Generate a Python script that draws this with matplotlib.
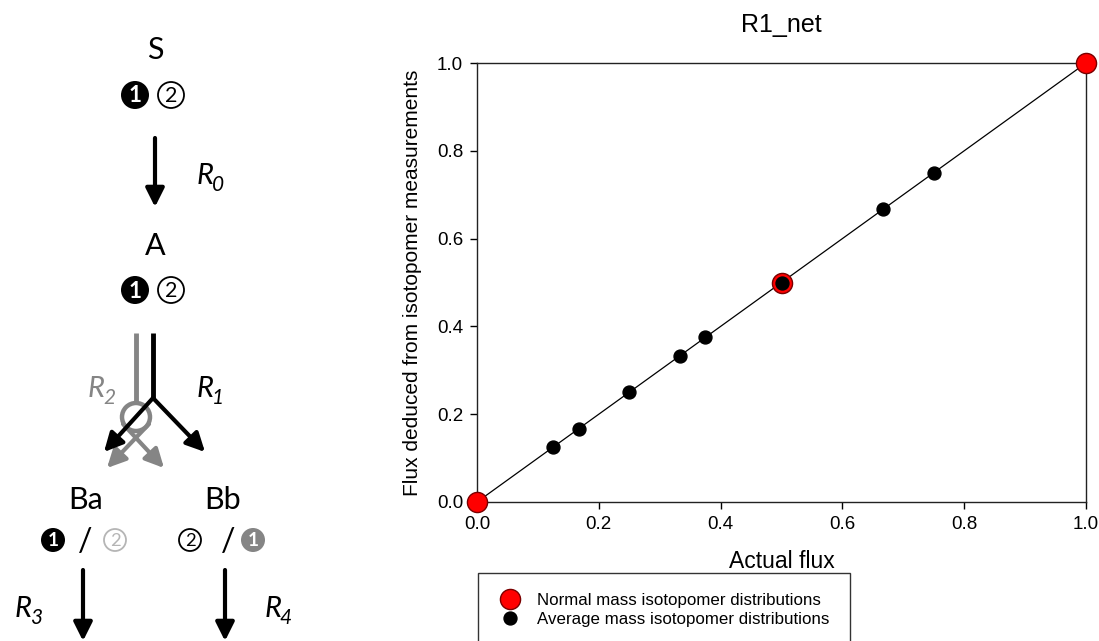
import matplotlib
matplotlib.use("Agg")
import matplotlib.pyplot as plt
from matplotlib.patches import Circle

# flux values: actual vs deduced from the isotopomer measurements
normal_actual = [0.0, 0.5, 1.0]
normal_deduced = [0.0, 0.5, 1.0]
average_actual = [0.125, 0.1667, 0.25, 0.3333, 0.375, 0.5, 0.6667, 0.75]
average_deduced = [0.125, 0.1667, 0.25, 0.3333, 0.375, 0.5, 0.6667, 0.75]
identity_x = [0.0, 1.0]
identity_y = [0.0, 1.0]

W, H = 1099, 641
fig = plt.figure(figsize=(W / 100, H / 100), dpi=100)

#---- reaction scheme on the left, drawn in pixel coordinates

d = fig.add_axes([0, 0, 1, 1])
d.set_xlim(0, W)
d.set_ylim(H, 0)
d.axis('off')

GRAY = '#858585'
LIGHT = '#b5b5b5'


def label(x, y, s, size=22, color='black', **kw):
    d.text(x, y, s, fontsize=size, color=color, ha='center', va='center',
           family='Lato', **kw)


def reaction(x, y, sub, color='black'):
    # italic R with a lowered italic index
    d.text(x - 4, y, 'R', fontsize=21, color=color, ha='center', va='center',
           family='Lato', style='italic')
    d.text(x + 9, y + 9, sub, fontsize=15, color=color, ha='center', va='center',
           family='Lato', style='italic')


def filled_num(x, y, r, digit, color='black'):
    d.add_patch(Circle((x, y), r, fc=color, ec=color, lw=0))
    d.text(x, y + 1, digit, fontsize=r * 1.15, color='white', ha='center', va='center',
           family='Lato', weight='bold')


def ring_num(x, y, r, digit, color='black'):
    d.add_patch(Circle((x, y), r - 1, fc='white', ec=color, lw=1.3))
    d.text(x, y + 1, digit, fontsize=r * 1.1, color=color, ha='center', va='center',
           family='Lato')


def arrow(x0, y0, x1, y1, color='black'):
    d.annotate('', xy=(x1, y1), xytext=(x0, y0),
               arrowprops=dict(arrowstyle='-|>', lw=3, color=color,
                               mutation_scale=28, shrinkA=0, shrinkB=0))


label(155, 50, 'S')
filled_num(135, 95, 14, '1')
ring_num(171, 95, 14, '2')

arrow(155, 138, 155, 207)
reaction(209, 176, '0')

label(155, 246, 'A')
filled_num(135, 290, 14, '1')
ring_num(171, 290, 14, '2')

# R2 (gray) goes through a loop and splits crosswise
d.plot([136, 136], [333, 403], color=GRAY, lw=3.5, solid_capstyle='butt')
d.add_patch(Circle((136, 417), 14, fc='none', ec=GRAY, lw=3.2))
arrow(149, 424, 107, 468, GRAY)
arrow(123, 424, 164, 468, GRAY)

# R1 (black) forks into Ba and Bb
d.plot([153, 153], [333, 398], color='black', lw=3.5, solid_capstyle='butt')
arrow(153, 398, 104, 452)
arrow(153, 398, 205, 452)

reaction(100, 389, '2', GRAY)
reaction(209, 389, '1')

label(86, 500, 'Ba')
label(223, 500, 'Bb')

filled_num(53, 540, 12, '1')
label(85, 542, '/', size=23)
ring_num(115, 540, 12, '2', LIGHT)

ring_num(190, 540, 12, '2')
label(228, 542, '/', size=23)
filled_num(253, 540, 12, '1', GRAY)

arrow(83, 570, 83, 641)
arrow(225, 570, 225, 641)
reaction(27, 609, '3')
reaction(277, 609, '4')

#---- flux comparison chart

plt.rcParams['font.family'] = 'Liberation Sans'
ax = fig.add_axes([477 / W, 1 - 502 / H, (1086 - 477) / W, (502 - 63) / H])

ax.plot(identity_x, identity_y, color='black', lw=0.9, zorder=2)
ax.plot(normal_actual, normal_deduced, 'o', ms=14.5, mfc='#ff0000', mec='#7a0000',
        mew=1.0, clip_on=False, zorder=3, label='Normal mass isotopomer distributions')
ax.plot(average_actual, average_deduced, 'o', ms=9.3, mfc='black', mec='black',
        clip_on=False, zorder=4, label='Average mass isotopomer distributions')

ax.set_xlim(0, 1)
ax.set_ylim(0, 1)
ax.set_xticks([0, 0.2, 0.4, 0.6, 0.8, 1.0])
ax.set_yticks([0, 0.2, 0.4, 0.6, 0.8, 1.0])
ax.xaxis.set_major_formatter(matplotlib.ticker.FormatStrFormatter('%.1f'))
ax.yaxis.set_major_formatter(matplotlib.ticker.FormatStrFormatter('%.1f'))
ax.tick_params(direction='out', length=5, width=1, labelsize=13.5, pad=5)
for sp in ax.spines.values():
    sp.set_linewidth(1)
    sp.set_color('#222222')

ax.set_title('R1_net', fontsize=18, pad=22)
ax.set_xlabel('Actual flux', fontsize=16.5, labelpad=12)
ax.set_ylabel('Flux deduced from isotopomer measurements', fontsize=15, labelpad=11)

leg = ax.legend(loc='upper left', bbox_to_anchor=(478 / W, 1 - 573 / H),
                bbox_transform=fig.transFigure, frameon=True, fancybox=False,
                edgecolor='black', fontsize=12.2, borderpad=1.2, labelspacing=0.2,
                handletextpad=0.9, handlelength=1.4, borderaxespad=0)
leg.get_frame().set_linewidth(1)

fig.savefig('out.png', dpi=100)
